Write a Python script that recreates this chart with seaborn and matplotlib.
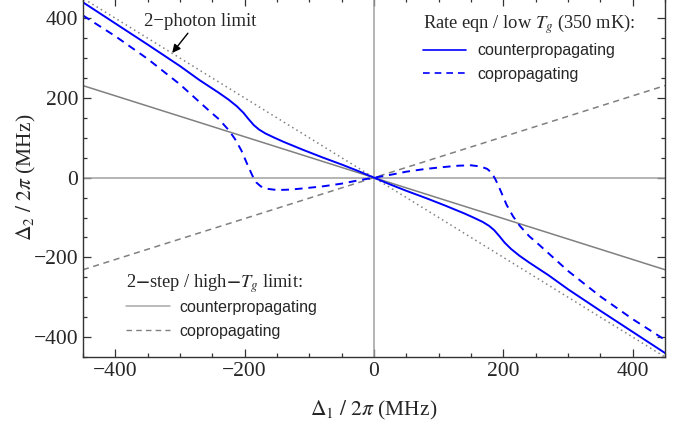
import pandas as pd
import seaborn as sns
import matplotlib.pyplot as plt
from matplotlib.lines import Line2D
from matplotlib.ticker import MultipleLocator

# detunings (MHz)
d1_counter = [-450, -400, -350, -300, -270, -240, -225, -212, -202, -194, -186, -178, -168, -155, -140, -110, -80, -50, -25, 0,
              25, 50, 80, 110, 140, 155, 168, 178, 186, 194, 202, 212, 225, 240, 270, 300, 350, 400, 450]
d2_counter = [440, 387, 334, 280, 245, 213, 196, 179, 163, 147, 132, 121, 111, 101, 90, 70, 51, 33, 17, 0,
              -17, -33, -51, -70, -90, -101, -111, -121, -132, -147, -163, -179, -196, -213, -245, -280, -334, -387, -440]

d1_co = [-450, -400, -350, -300, -270, -255, -240, -225, -215, -205, -195, -188, -182, -175, -165, -150, -130, -110,
         -80, -50, -25, 0, 25, 50, 80, 110, 130, 150, 165, 175, 182, 188, 195, 205, 215, 225, 240, 255, 270,
         300, 350, 400, 450]
d2_co = [407, 355, 298, 234, 190, 168, 147, 120, 97, 68, 30, 5, -12, -22, -28, -31, -30, -27,
         -22, -15, -7, 0, 7, 15, 22, 27, 30, 31, 28, 22, 12, -5, -30, -68, -97, -120, -147, -168, -190,
         -234, -298, -355, -407]

# limiting cases
d1_lim = [-450, 450]
d2_two_photon = [450, -450]
d2_step_counter = [231, -231]
d2_step_co = [-231, 231]

sns.set_theme(style="ticks")
plt.rcParams["font.family"] = ["Liberation Serif", "DejaVu Serif"]
plt.rcParams["mathtext.fontset"] = "stix"

fig = plt.figure(figsize=(6.87, 4.28), dpi=100)
ax = fig.add_axes([0.1208, 0.1659, 0.8472, 0.838])

grey = "#808080"
ax.axhline(0, color="#a0a0a0", lw=1.1, zorder=1)
ax.axvline(0, color="#a0a0a0", lw=1.1, zorder=1)

sns.lineplot(x=d1_lim, y=d2_two_photon, ax=ax, color=grey, lw=1.1, linestyle=(0, (1, 2.2)))
sns.lineplot(x=d1_lim, y=d2_step_counter, ax=ax, color=grey, lw=1.1)
sns.lineplot(x=d1_lim, y=d2_step_co, ax=ax, color=grey, lw=1.1, linestyle=(0, (4, 3)))
sns.lineplot(x=d1_counter, y=d2_counter, ax=ax, color="blue", lw=1.4)
sns.lineplot(x=d1_co, y=d2_co, ax=ax, color="blue", lw=1.4, linestyle=(0, (4, 3)))

ax.set_xlim(-450, 450)
ax.set_ylim(-450, 450)
ax.xaxis.set_major_locator(MultipleLocator(200))
ax.xaxis.set_minor_locator(MultipleLocator(50))
ax.yaxis.set_major_locator(MultipleLocator(200))
ax.yaxis.set_minor_locator(MultipleLocator(50))
ax.tick_params(which="both", direction="in", top=True, right=True, labelsize=15.5, color="#333333", width=0.9)
ax.tick_params(which="major", length=6)
ax.tick_params(which="minor", length=3)
for s in ax.spines.values():
    s.set_color("#333333")
    s.set_linewidth(1.0)

ax.set_xlabel(r"$\Delta_1\ /\ 2\pi$ (MHz)", fontsize=15.5, labelpad=13)
ax.set_ylabel(r"$\Delta_2\ /\ 2\pi$ (MHz)", fontsize=15.5)
ax.yaxis.set_label_coords(-0.077, 0.5)

ax.annotate("2\u2212photon limit", xy=(-312, 313), xytext=(-355, 392), fontsize=13.5,
            va="center", ha="left",
            arrowprops=dict(arrowstyle="-|>", color="black", lw=1.0, shrinkA=0, shrinkB=0,
                            relpos=(0.41, 0.0), mutation_scale=12))

h1 = [Line2D([], [], color="blue", lw=1.2), Line2D([], [], color="blue", lw=1.2, linestyle=(0, (4, 3)))]
leg1 = ax.legend(h1, ["counterpropagating", "copropagating"], title=r"Rate eqn / low $T_g$ (350 mK):",
                 loc="upper left", bbox_to_anchor=(0.559, 1.0), frameon=False,
                 prop={"family": "Liberation Sans", "size": 11.5}, title_fontsize=13.3,
                 handlelength=2.7, handletextpad=0.7, labelspacing=0.55, alignment="left")
leg1._legend_box.sep = 5
ax.add_artist(leg1)

h2 = [Line2D([], [], color="#a8a8a8", lw=1.1), Line2D([], [], color=grey, lw=1.0, linestyle=(0, (4, 3)))]
leg2 = ax.legend(h2, ["counterpropagating", "copropagating"], title=r"2$\mathbf{-}$step / high$\mathbf{-}T_g$ limit:",
                 loc="upper left", bbox_to_anchor=(0.05, 0.275), frameon=False,
                 prop={"family": "Liberation Sans", "size": 11.5}, title_fontsize=13.3,
                 handlelength=2.7, handletextpad=0.6, labelspacing=0.6, alignment="left")
leg2._legend_box.sep = 3

fig.savefig("out.png", dpi=100)
